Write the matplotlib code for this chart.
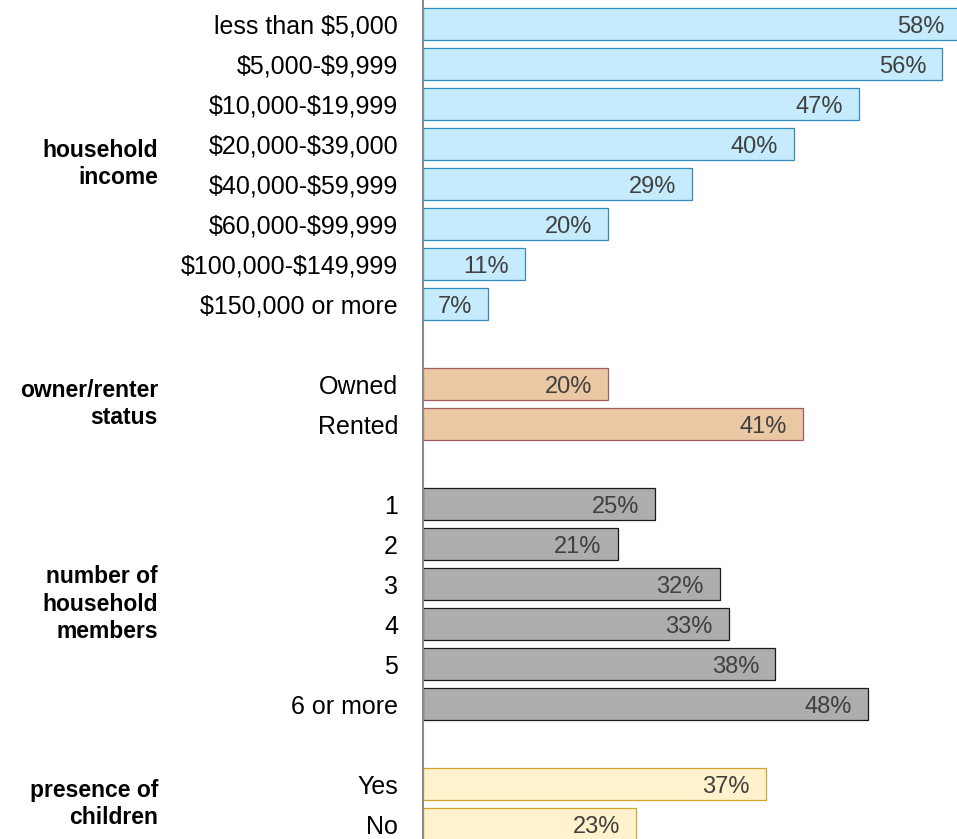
import numpy as np
import matplotlib
matplotlib.use('Agg')
from matplotlib import pyplot as plt
from matplotlib import transforms

plt.rcParams['font.family'] = ['Liberation Sans', 'DejaVu Sans']
plt.rcParams['text.parse_math'] = False

# Data
income_labels = ['less than $5,000', '$5,000-$9,999', '$10,000-$19,999', '$20,000-$39,000',
                 '$40,000-$59,999', '$60,000-$99,999', '$100,000-$149,999', '$150,000 or more']
income_values = [58, 56, 47, 40, 29, 20, 11, 7]

owner_labels = ['Owned', 'Rented']
owner_values = [20, 41]

members_labels = ['1', '2', '3', '4', '5', '6 or more']
members_values = [25, 21, 32, 33, 38, 48]

children_labels = ['Yes', 'No']
children_values = [37, 23]

groups = [
    ('household\nincome', income_labels, income_values, '#C5EBFD', '#2F8DC0'),
    ('owner/renter\nstatus', owner_labels, owner_values, '#EBC8A4', '#A05A62'),
    ('number of\nhousehold\nmembers', members_labels, members_values, '#ADADAD', '#1A1A1A'),
    ('presence of\nchildren', children_labels, children_values, '#FFF2CC', '#D4A52A'),
]

fig = plt.figure(figsize=(9.57, 8.39), dpi=100)
ax = fig.add_axes([423 / 957, 0, 1 - 423 / 957, 1])
title_trans = transforms.blended_transform_factory(fig.transFigure, ax.transData)

pos = 0
ticks, tick_labels = [], []
for title, labels, values, fc, ec in groups:
    rows = np.arange(pos, pos + len(labels))
    ax.barh(rows, values, height=0.8, color=fc, edgecolor=ec, linewidth=0.9)
    for r, v in zip(rows, values):
        ax.annotate(f'{v}%', (v, r), xytext=(-11.5, 0), textcoords='offset points',
                    ha='right', va='center_baseline', fontsize=17, color='#404040',
                    annotation_clip=False)
    ticks.extend(rows)
    tick_labels.extend(labels)
    # group title to the left of the category labels
    ax.text(158 / 957, rows.mean(), title, transform=title_trans,
            ha='right', va='center', fontsize=16.5, fontweight='bold', linespacing=1.27)
    pos += len(labels) + 1

ax.set_yticks(ticks)
ax.set_yticklabels(tick_labels, fontsize=18)
ax.tick_params(axis='y', length=0, pad=18)
ax.set_xticks([])
ax.set_xlim(0, (957 - 423) / 9.27)
ax.set_ylim(20.375, -0.6)

for s in ['top', 'right', 'bottom']:
    ax.spines[s].set_visible(False)
ax.spines['left'].set_color('#8C8C8C')
ax.spines['left'].set_linewidth(1.5)

fig.savefig('out.png', dpi=100)
